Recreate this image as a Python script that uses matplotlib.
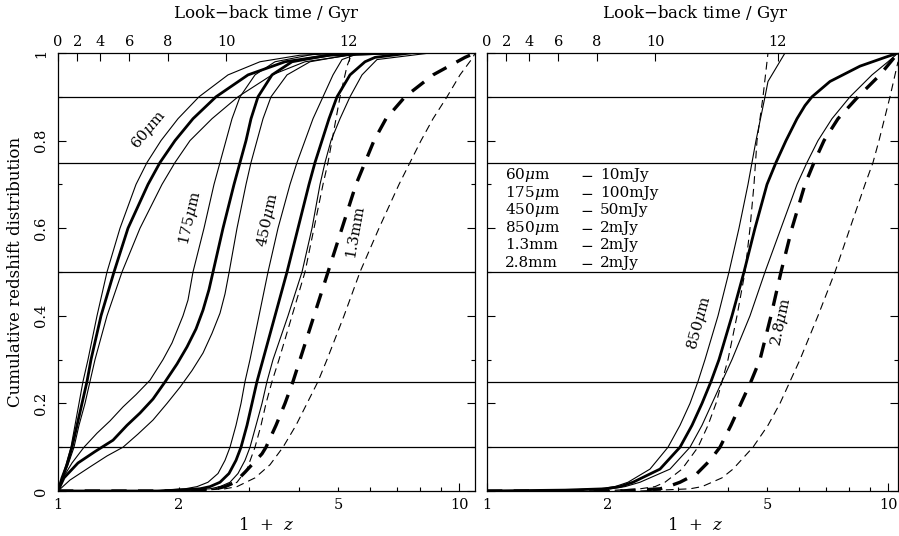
import matplotlib

matplotlib.use("Agg")
import matplotlib.pyplot as plt
import numpy as np
from matplotlib.ticker import FixedLocator, FuncFormatter, NullLocator

plt.rcParams["font.family"] = ["DejaVu Serif", "DejaVu Sans"]
plt.rcParams["mathtext.fontset"] = "dejavuserif"

# look-back axis: Einstein-de Sitter, age of the universe in Gyr
T0_GYR = 13.07
LOOKBACK_TICKS = [0, 2, 4, 6, 8, 10, 12]
QUARTILE_LINES = [0.1, 0.25, 0.5, 0.75, 0.9]

# ---- left panel: 1+z and cumulative fraction ----
opz_60_a = [1.0, 1.0232, 1.047, 1.0775, 1.1025, 1.1281, 1.1543, 1.188, 1.251, 1.3249,
            1.4276, 1.565, 1.667, 1.8065, 1.9917, 2.2469, 2.6541, 3.189, 4.0129, 5.3472]
cdf_60_a = [0.0, 0.03, 0.06, 0.1, 0.15, 0.2, 0.25, 0.3, 0.4, 0.5,
            0.6, 0.7, 0.75, 0.8, 0.85, 0.9, 0.95, 0.98, 0.995, 1.0]
opz_60_b = [1.0, 1.0232, 1.053, 1.0837, 1.1153, 1.1478, 1.1812, 1.2087, 1.2801, 1.3792,
            1.4947, 1.6766, 1.7962, 1.9578, 2.1708, 2.4774, 2.977, 3.6818, 4.767, 6.7279]
cdf_60_b = cdf_60_a
opz_60_c = [1.0, 1.0291, 1.0591, 1.0962, 1.1281, 1.1677, 1.2017, 1.2367, 1.3249, 1.4441,
            1.6013, 1.8169, 1.9578, 2.1338, 2.4211, 2.811, 3.4168, 4.1296, 5.3472, 7.993]
cdf_60_c = cdf_60_a

opz_175_a = [1.0, 1.0291, 1.0837, 1.161, 1.251, 1.3479, 1.4524, 1.565, 1.696, 1.8274, 1.9244, 2.0497,
             2.1094, 2.1708, 2.3124, 2.4491, 2.535, 2.6237, 2.7158, 2.8435, 3.0991, 3.4764, 4.5014]
cdf_175_a = [0.0, 0.03, 0.064, 0.1, 0.132, 0.16, 0.192, 0.22, 0.253, 0.3, 0.338, 0.4,
             0.436, 0.5, 0.6, 0.7, 0.75, 0.8, 0.85, 0.9, 0.95, 0.98, 1.0]
opz_175_b = [1.0, 1.0351, 1.1217, 1.2367, 1.3714, 1.4861, 1.6013, 1.7254, 1.8485, 1.9804, 2.0974, 2.2086,
             2.2992, 2.3798, 2.4351, 2.579, 2.7473, 2.8435, 2.9432, 3.0289, 3.153, 3.4168, 3.8329, 5.0489]
cdf_175_b = [0.0, 0.03, 0.064, 0.09, 0.116, 0.15, 0.178, 0.21, 0.249, 0.29, 0.329, 0.37,
             0.413, 0.46, 0.5, 0.6, 0.7, 0.75, 0.8, 0.85, 0.9, 0.95, 0.98, 1.0]
opz_175_c = [1.0, 1.0713, 1.2017, 1.3249, 1.4524, 1.583, 1.7254, 1.8699, 2.0147, 2.1585, 2.2992, 2.4211,
             2.535, 2.6088, 2.6693, 2.795, 2.9432, 3.0289, 3.1349, 3.245, 3.3974, 3.7244, 4.2499, 5.663]
cdf_175_c = [0.0, 0.025, 0.055, 0.08, 0.1, 0.13, 0.162, 0.2, 0.237, 0.275, 0.315, 0.36,
             0.406, 0.45, 0.498, 0.6, 0.7, 0.75, 0.8, 0.85, 0.9, 0.95, 0.98, 1.0]

opz_450_a = [1.0, 1.696, 2.0735, 2.2213, 2.3662, 2.506, 2.6088, 2.6848, 2.7788, 2.86, 2.9263, 3.0114,
             3.1712, 3.3394, 3.5368, 3.789, 3.9445, 4.1296, 4.3238, 4.5795, 4.8499, 5.1073, 5.663]
cdf_450_a = [0.0, 0.0, 0.005, 0.01, 0.02, 0.04, 0.07, 0.1, 0.15, 0.2, 0.25, 0.3,
             0.4, 0.5, 0.6, 0.7, 0.75, 0.8, 0.85, 0.9, 0.95, 0.985, 1.0]
opz_450_b = [1.0, 1.7962, 2.2598, 2.3934, 2.535, 2.6693, 2.7788, 2.86, 2.96, 3.0463, 3.1349, 3.245,
             3.4764, 3.7244, 3.967, 4.2257, 4.3736, 4.553, 4.7398, 4.9628, 5.3472, 5.828, 6.173, 7.5464]
cdf_450_b = [0.0, 0.0, 0.005, 0.01, 0.02, 0.04, 0.07, 0.1, 0.15, 0.2, 0.25, 0.3,
             0.4, 0.5, 0.6, 0.7, 0.75, 0.8, 0.85, 0.9, 0.95, 0.98, 0.99, 1.0]
opz_450_c = [1.0, 1.9024, 2.3934, 2.535, 2.6848, 2.811, 2.9263, 3.0114, 3.1171, 3.2262, 3.3201, 3.4367,
             3.7457, 4.0593, 4.2991, 4.5014, 4.6325, 4.7946, 5.0489, 5.3472, 5.7285, 6.2436, 8.4662]
cdf_450_c = cdf_450_a

opz_1mm_a = [1.0, 1.9024, 2.4634, 2.639, 2.795, 2.96, 3.0991, 3.2079, 3.3013, 3.4168,
             3.557, 3.8329, 4.1296, 4.3488, 4.5795, 4.7129, 4.8224, 5.0489, 5.256, 5.4091]
cdf_1mm_a = [0.0, 0.0, 0.005, 0.01, 0.02, 0.05, 0.1, 0.15, 0.2, 0.25,
             0.3, 0.4, 0.5, 0.6, 0.7, 0.75, 0.8, 0.9, 0.97, 1.0]
opz_1mm_b = [1.0, 1.9024, 2.4634, 2.6088, 2.763, 2.9263, 3.2262, 3.3013, 3.4963, 3.6818, 3.8548, 4.0129,
             4.3488, 4.7129, 5.1073, 5.5348, 5.828, 6.1373, 6.5749, 7.3329, 8.6131, 10.349, 10.96]
cdf_1mm_b = [0.0, 0.0, 0.005, 0.01, 0.02, 0.043, 0.085, 0.1, 0.15, 0.2, 0.25, 0.3,
             0.4, 0.5, 0.6, 0.7, 0.75, 0.8, 0.85, 0.9, 0.95, 0.99, 1.0]
opz_1mm_c = [1.0, 2.1338, 2.6088, 2.795, 3.0991, 3.3782, 3.6397, 3.9216, 4.1774, 4.45, 4.6856,
             5.1664, 5.663, 6.3159, 7.0849, 7.5464, 8.0387, 8.6131, 9.3339, 10.056, 10.835, 10.96]
cdf_1mm_c = [0.0, 0.0, 0.005, 0.01, 0.03, 0.06, 0.1, 0.15, 0.2, 0.25, 0.3,
             0.4, 0.5, 0.6, 0.7, 0.75, 0.8, 0.85, 0.9, 0.95, 0.99, 1.0]

# ---- right panel ----
opz_850_a = [1.0, 1.5207, 1.9133, 2.0855, 2.2469, 2.5495, 2.8273, 3.0289, 3.2079, 3.3584,
             3.4963, 3.7677, 4.0129, 4.2499, 4.4754, 4.6856, 4.9343, 5.0199, 5.5348]
cdf_850_a = [0.0, 0.002, 0.005, 0.01, 0.02, 0.05, 0.1, 0.15, 0.2, 0.25,
             0.3, 0.4, 0.5, 0.6, 0.7, 0.8, 0.9, 0.935, 1.0]
opz_850_b = [1.0, 1.565, 1.969, 2.1461, 2.3124, 2.7001, 3.0289, 3.245, 3.4367, 3.6191, 3.789, 4.0825,
             4.3736, 4.659, 4.9914, 5.256, 5.5665, 5.9298, 6.2081, 6.4629, 7.1662, 8.5142, 9.8283, 10.59]
cdf_850_b = [0.0, 0.002, 0.005, 0.01, 0.02, 0.05, 0.1, 0.15, 0.2, 0.25, 0.3, 0.4,
             0.5, 0.6, 0.7, 0.75, 0.8, 0.85, 0.88, 0.9, 0.935, 0.97, 0.99, 1.0]
opz_850_c = [1.0, 1.6105, 2.0263, 2.2086, 2.4073, 2.86, 3.2079, 3.4367, 3.6397, 3.8548, 4.0825,
             4.5272, 4.9343, 5.4091, 5.9298, 6.28, 6.689, 7.2491, 8.0387, 9.1214, 9.9998, 10.59]
cdf_850_c = [0.0, 0.002, 0.005, 0.01, 0.02, 0.05, 0.1, 0.15, 0.2, 0.25, 0.3,
             0.4, 0.5, 0.6, 0.7, 0.75, 0.8, 0.85, 0.9, 0.95, 0.98, 1.0]

opz_3mm_a = [1.0, 1.9133, 2.4073, 2.6237, 2.7788, 3.064, 3.3584, 3.557, 3.7244,
             3.8548, 3.9899, 4.2019, 4.399, 4.5272, 4.6325, 4.7129, 4.8779, 5.0199]
cdf_3mm_a = [0.0, 0.0, 0.005, 0.01, 0.02, 0.05, 0.1, 0.15, 0.2,
             0.25, 0.3, 0.4, 0.5, 0.6, 0.7, 0.8, 0.9, 1.0]
opz_3mm_b = [1.0, 2.1461, 2.7001, 2.8273, 3.0289, 3.3394, 3.5981, 3.8107, 4.0593, 4.2991, 4.553,
             4.7946, 5.1073, 5.4091, 5.7616, 6.2081, 6.5378, 6.9238, 7.5036, 8.4169, 9.5492, 10.59]
cdf_3mm_b = [0.0, 0.0, 0.005, 0.01, 0.02, 0.04, 0.07, 0.1, 0.15, 0.2, 0.25,
             0.3, 0.4, 0.5, 0.6, 0.7, 0.75, 0.8, 0.85, 0.9, 0.95, 1.0]
opz_3mm_c = [1.0, 2.4073, 3.2079, 3.4367, 3.8548, 4.1061, 4.6058, 5.0199, 5.3778, 5.696,
             6.0325, 6.689, 7.3752, 8.0387, 8.7622, 9.1737, 9.4949, 10.114, 10.59]
cdf_3mm_c = [0.0, 0.0, 0.005, 0.01, 0.03, 0.05, 0.1, 0.15, 0.2, 0.25,
             0.3, 0.4, 0.5, 0.6, 0.7, 0.75, 0.8, 0.9, 0.98]

# curve labels: text, 1+z and fraction at the centre, rotation
left_labels = [
    ("60$\\mu$m", 1.686, 0.824, 50),
    ("175$\\mu$m", 2.134, 0.623, 77),
    ("450$\\mu$m", 3.34, 0.619, 78),
    ("1.3mm", 5.504, 0.594, 80),
]
right_labels = [
    ("850$\\mu$m", 3.379, 0.384, 75),
    ("2.8$\\mu$m", 5.411, 0.386, 78),
]

legend_bands = ["60$\\mu$m", "175$\\mu$m", "450$\\mu$m", "850$\\mu$m", "1.3mm", "2.8mm"]
legend_limits = ["10mJy", "100mJy", "50mJy", "2mJy", "2mJy", "2mJy"]

STYLES = {
    "thin": dict(lw=0.8, ls="-"),
    "thick": dict(lw=2.0, ls="-"),
    "thin_dash": dict(lw=0.8, ls=(0, (7.0, 4.5))),
    "thick_dash": dict(lw=2.4, ls=(0, (4.6, 3.4))),
}

TICK_SIZE = 10.5
LABEL_SIZE = 12
TEXT_SIZE = 11


def one_plus_z_at(t_gyr):
    t = np.asarray(t_gyr, dtype=float)
    return (1.0 - t / T0_GYR) ** (-2.0 / 3.0)


def style_axes(ax, xmax, show_ylabels):
    ax.set_xscale("log")
    ax.set_xlim(1.0, xmax)
    ax.set_ylim(0.0, 1.0)

    ax.xaxis.set_major_locator(FixedLocator([1, 10]))
    ax.xaxis.set_minor_locator(FixedLocator([2, 3, 4, 5, 6, 7, 8, 9]))
    ax.xaxis.set_major_formatter(FuncFormatter(lambda v, p: f"{v:g}"))
    ax.xaxis.set_minor_formatter(
        FuncFormatter(lambda v, p: f"{v:g}" if round(v) in (2, 5) else "")
    )
    ax.yaxis.set_major_locator(FixedLocator([0, 0.2, 0.4, 0.6, 0.8, 1.0]))
    ax.yaxis.set_minor_locator(FixedLocator([0.1, 0.3, 0.5, 0.7, 0.9]))
    ax.yaxis.set_major_formatter(FuncFormatter(lambda v, p: f"{v:g}"))

    ax.tick_params(axis="both", which="both", direction="in", top=False,
                   right=True, labelsize=TICK_SIZE, width=0.8)
    ax.tick_params(axis="both", which="major", length=5.5)
    ax.tick_params(axis="both", which="minor", length=3)
    ax.tick_params(axis="x", which="both", pad=5)
    ax.tick_params(axis="y", which="both", pad=7, labelleft=show_ylabels)
    if show_ylabels:
        for lab in ax.get_yticklabels():
            lab.set_rotation(90)
            lab.set_va("center")
    for spine in ax.spines.values():
        spine.set_linewidth(0.9)

    for level in QUARTILE_LINES:
        ax.axhline(level, color="black", lw=0.9, zorder=1)

    top = ax.twiny()
    top.set_xscale("log")
    top.set_xlim(ax.get_xlim())
    top.xaxis.set_major_locator(FixedLocator(one_plus_z_at(LOOKBACK_TICKS)))
    top.xaxis.set_minor_locator(NullLocator())
    top.set_xticklabels([str(t) for t in LOOKBACK_TICKS])
    top.tick_params(axis="x", which="major", direction="in", length=5.5,
                    width=0.8, labelsize=TICK_SIZE, pad=3)
    for spine in top.spines.values():
        spine.set_visible(False)
    return top


def draw_curves(ax, curves):
    for opz, cdf, kind in curves:
        ax.plot(opz, cdf, color="black", zorder=3, solid_joinstyle="round", **STYLES[kind])


def main():
    fig = plt.figure(figsize=(8.99, 5.36), dpi=100)
    ax_l = fig.add_axes([58 / 899, 45 / 536, 417 / 899, 438 / 536])
    ax_r = fig.add_axes([487 / 899, 45 / 536, 411 / 899, 438 / 536])

    style_axes(ax_l, 10.96, True)
    style_axes(ax_r, 10.59, False)

    draw_curves(ax_l, [
        (opz_60_a, cdf_60_a, "thin"),
        (opz_60_b, cdf_60_b, "thick"),
        (opz_60_c, cdf_60_c, "thin"),
        (opz_175_a, cdf_175_a, "thin"),
        (opz_175_b, cdf_175_b, "thick"),
        (opz_175_c, cdf_175_c, "thin"),
        (opz_450_a, cdf_450_a, "thin"),
        (opz_450_b, cdf_450_b, "thick"),
        (opz_450_c, cdf_450_c, "thin"),
        (opz_1mm_a, cdf_1mm_a, "thin_dash"),
        (opz_1mm_b, cdf_1mm_b, "thick_dash"),
        (opz_1mm_c, cdf_1mm_c, "thin_dash"),
    ])
    draw_curves(ax_r, [
        (opz_850_a, cdf_850_a, "thin"),
        (opz_850_b, cdf_850_b, "thick"),
        (opz_850_c, cdf_850_c, "thin"),
        (opz_3mm_a, cdf_3mm_a, "thin_dash"),
        (opz_3mm_b, cdf_3mm_b, "thick_dash"),
        (opz_3mm_c, cdf_3mm_c, "thin_dash"),
    ])

    for ax, labels in ((ax_l, left_labels), (ax_r, right_labels)):
        for text, x, y, rot in labels:
            ax.text(x, y, text, rotation=rot, ha="center", va="center",
                    fontsize=TEXT_SIZE, zorder=4)

    row_y = np.linspace(0.721, 0.521, len(legend_bands))
    for yy, band, limit in zip(row_y, legend_bands, legend_limits):
        ax_r.text(0.044, yy, band, transform=ax_r.transAxes, fontsize=TEXT_SIZE, va="center")
        ax_r.text(0.226, yy, "$-$", transform=ax_r.transAxes, fontsize=TEXT_SIZE, va="center")
        ax_r.text(0.275, yy, limit, transform=ax_r.transAxes, fontsize=TEXT_SIZE, va="center")

    for xc in (266 / 899, 695 / 899):
        fig.text(xc, 1 - 13 / 536, "Look$-$back time / Gyr", ha="center",
                 va="center", fontsize=LABEL_SIZE)
        fig.text(xc, 1 - 526 / 536, "1  +  $z$", ha="center", va="center",
                 fontsize=LABEL_SIZE)
    fig.text(16 / 899, 1 - 272 / 536, "Cumulative redshift distribution",
             rotation=90, ha="center", va="center", fontsize=LABEL_SIZE)

    fig.savefig("out.png", dpi=100)
    plt.close(fig)


if __name__ == "__main__":
    main()
